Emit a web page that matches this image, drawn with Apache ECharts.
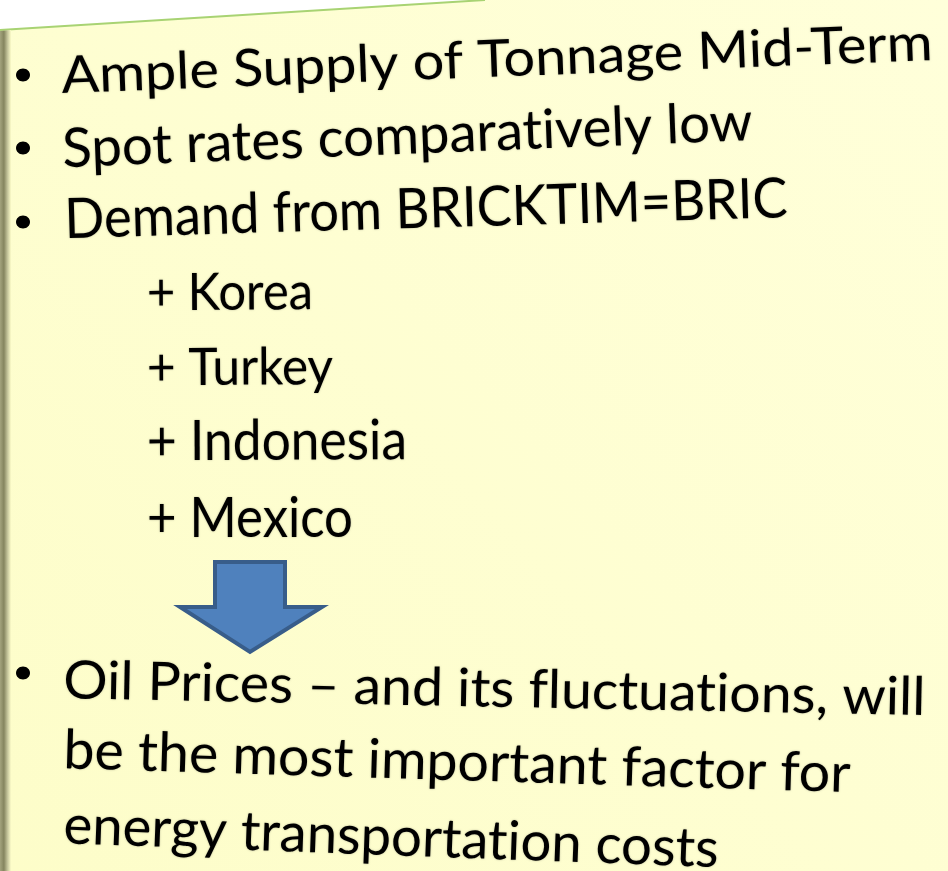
<!DOCTYPE html>
<html>
<head>
<meta charset="utf-8">
<script src="https://cdn.jsdelivr.net/npm/echarts@6/dist/echarts.min.js"></script>
<style>
  html, body { margin: 0; padding: 0; background: #fff; }
  #main { width: 948px; height: 871px; }
</style>
</head>
<body>
<div id="main"></div>
<script>
// slide texts
const headPoints = [
  'Ample Supply of Tonnage Mid-Term',
  'Spot rates comparatively low',
  'Demand from BRICKTIM=BRIC'
];
const addedCountries = ['+ Korea', '+ Turkey', '+ Indonesia', '+ Mexico'];
const conclusion = [
  'Oil Prices \u2013 and its fluctuations, will',
  'be the most important factor for',
  'energy transportation costs'
];

// layout: [left x, baseline y at left, right x, baseline y at right, cap height]
const headLayout = [
  [62, 93, 933, 60, 37],
  [63, 167, 753, 140, 39],
  [65, 238, 788, 217, 40]
];
const countryLayout = [
  [147, 310, 313, 309, 37],
  [147, 385, 333, 384, 37],
  [147, 460, 407, 459, 40],
  [147, 537, 353, 537, 40]
];
const conclusionLayout = [
  [63, 698, 925, 715, 38],
  [63, 768, 850, 792, 39],
  [63, 843, 718, 867, 39]
];
const bulletPos = [[23, 75], [23, 148], [23, 222], [23, 673]];

const FONT = 'Lato';
const CAP = 0.7165;   // cap height / em
const MID = 0.32;     // em middle above baseline

const ctx = document.createElement('canvas').getContext('2d');

// Lato joins fi/fl/ti... ; the slide font does not, so cut the text there
function pieces(text) {
  const out = [];
  let cur = '';
  for (let i = 0; i < text.length; i++) {
    cur += text[i];
    const pair = text[i] + (text[i + 1] || '');
    if (/^(f[filt]|t[it])$/.test(pair)) {
      out.push(cur);
      cur = '';
    }
  }
  if (cur) out.push(cur);
  return out;
}

function textLine(text, l) {
  const [x0, y0, x1, y1, cap] = l;
  const fs = cap / CAP;
  const font = 'normal ' + fs.toFixed(2) + 'px ' + FONT;
  ctx.font = font;
  const parts = pieces(text);
  const w = parts.reduce((s, p) => s + ctx.measureText(p).width, 0);
  const len = Math.hypot(x1 - x0, y1 - y0);
  const tok = {
    font: font,
    fill: '#000',
    textShadowColor: 'rgba(0,0,0,0.3)',
    textShadowBlur: 2
  };
  return {
    type: 'group',
    x: x0,
    y: y0,
    rotation: Math.atan2(y0 - y1, x1 - x0),
    scaleX: len / w,
    children: [{
      type: 'text',
      z: 10,
      y: -MID * fs,
      style: {
        text: parts.map((p, k) => '{' + (k % 2 ? 'b' : 'a') + '|' + p + '}').join(''),
        font: font,
        fill: '#000',
        align: 'left',
        verticalAlign: 'middle',
        rich: { a: tok, b: tok }
      }
    }]
  };
}

const elements = [];

// panel
elements.push({
  type: 'rect', z: 1,
  shape: { x: 0, y: 0, width: 948, height: 871 },
  style: {
    fill: new echarts.graphic.LinearGradient(0, 1, 1, 0, [
      { offset: 0, color: '#FDFDC9' },
      { offset: 1, color: '#FFFFDA' }
    ])
  }
});
// white corner above the tilted top edge
elements.push({
  type: 'polygon', z: 2,
  shape: { points: [[0, 0], [485, 0], [0, 30]] },
  style: { fill: '#fff' }
});
elements.push({
  type: 'line', z: 3,
  shape: { x1: 0, y1: 30, x2: 485, y2: 0 },
  style: { stroke: '#A8D373', lineWidth: 2 }
});
// left shaded edge
elements.push({
  type: 'polygon', z: 3,
  shape: { points: [[0, 31], [11, 30], [11, 871], [0, 871]] },
  style: {
    fill: new echarts.graphic.LinearGradient(0, 0, 1, 0, [
      { offset: 0, color: '#A3A37D' },
      { offset: 0.35, color: '#85855F' },
      { offset: 0.7, color: '#C8C89E' },
      { offset: 1, color: '#FCFCC9' }
    ])
  }
});

headPoints.forEach((t, i) => elements.push(textLine(t, headLayout[i])));
addedCountries.forEach((t, i) => elements.push(textLine(t, countryLayout[i])));
conclusion.forEach((t, i) => elements.push(textLine(t, conclusionLayout[i])));

bulletPos.forEach(p => elements.push({
  type: 'ellipse', z: 10,
  shape: { cx: p[0], cy: p[1], rx: 7, ry: 6.5 },
  style: { fill: '#000' }
}));

// down arrow
elements.push({
  type: 'polygon', z: 10,
  shape: {
    points: [[215, 562], [285, 562], [285, 607], [322, 607], [250, 652], [180, 607], [215, 607]]
  },
  style: { fill: '#4F81BD', stroke: '#385D8A', lineWidth: 4, lineJoin: 'miter' }
});

const chart = echarts.init(document.getElementById('main'), null, { renderer: 'canvas' });
chart.setOption({
  animation: false,
  graphic: { elements: elements }
});
</script>
</body>
</html>
